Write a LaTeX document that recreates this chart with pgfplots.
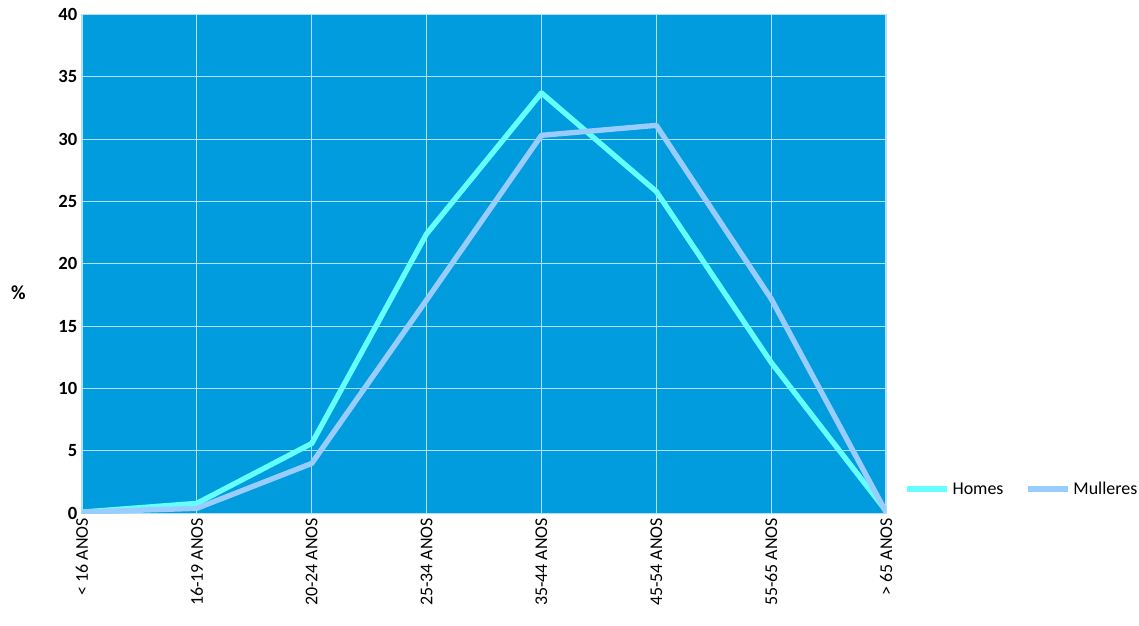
\documentclass[border=0pt]{standalone}
\usepackage{pgfplots}
\pgfplotsset{compat=1.18}
\usepackage{fontspec}
\setmainfont{Carlito}
\definecolor{bg}{RGB}{0,156,222}
\definecolor{gridc}{RGB}{175,225,248}
\definecolor{homes}{RGB}{102,255,255}
\definecolor{mull}{RGB}{153,204,255}
\begin{document}
\begin{tikzpicture}[x=1bp,y=1bp]
\path[use as bounding box] (-61.5,-84) rectangle (792.75,385);
\begin{axis}[
  at={(0,0)}, anchor=south west,
  scale only axis, width=603bp, height=374.25bp,
  xmin=0, xmax=7, ymin=0, ymax=40,
  xtick={0,...,7},
  xticklabels={< 16 ANOS,16-19 ANOS,20-24 ANOS,25-34 ANOS,35-44 ANOS,45-54 ANOS,55-65 ANOS,> 65 ANOS},
  ytick={0,5,...,40},
  x tick label style={rotate=90, anchor=east, font=\fontsize{13.5}{15}\selectfont},
  y tick label style={font=\bfseries\fontsize{14}{16}\selectfont},
  /pgf/number format/assume math mode=true,
  tick style={draw=none},
  axis background/.style={fill=bg},
  grid=major,
  major grid style={gridc, line width=0.8pt},
  axis line style={draw=gridc, line width=0.8pt},
  ylabel={\bfseries\fontsize{15}{17}\selectfont \%},
  ylabel style={rotate=-90, at={(axis description cs:-0.079,0.443)}, anchor=center},
  legend style={at={(1.017,0.048)}, anchor=west, draw=none, fill=none,
    font=\fontsize{13.5}{15}\selectfont, legend columns=2,
    /tikz/every even column/.append style={column sep=14bp}},
  legend image code/.code={\draw[#1, line width=4.5bp] (0bp,0bp) -- (30bp,0bp);},
]
\addplot[homes, line width=4bp, line join=round] coordinates {
(0,0.1) (1,0.8) (2,5.6) (3,22.4) (4,33.7) (5,25.8) (6,12.1) (7,0.2)};
\addlegendentry{Homes}
\addplot[mull, line width=4bp, line join=round] coordinates {
(0,0.1) (1,0.4) (2,4.0) (3,17.1) (4,30.3) (5,31.1) (6,17.2) (7,0.1)};
\addlegendentry{Mulleres}
\end{axis}
\end{tikzpicture}
\end{document}
